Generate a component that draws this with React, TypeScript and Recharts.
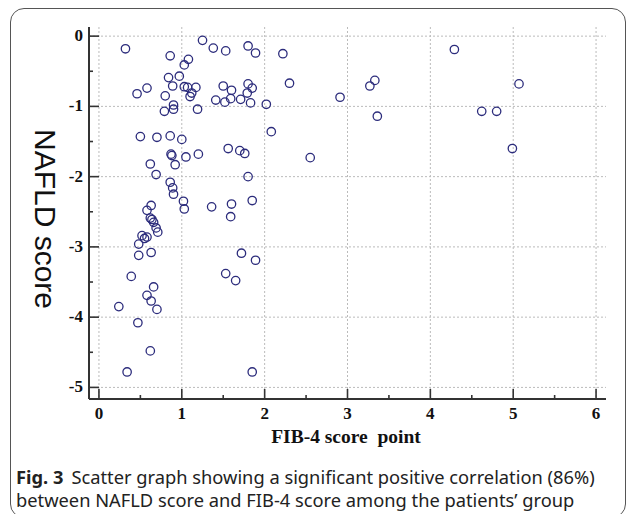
import { ScatterChart, Scatter, XAxis, YAxis, CartesianGrid, Label } from 'recharts';

// FIB-4 score (x) and NAFLD score (y) per patient
const fib4 = [
  0.32, 0.86, 1.25, 1.38, 1.53, 1.8, 1.89, 1.08, 1.03, 0.84,
  0.97, 0.89, 0.58, 0.46, 0.8, 1.03, 1.07, 1.17, 1.12, 1.1,
  0.9, 0.9, 0.79, 1.19, 1.5, 1.6, 1.8, 1.85, 1.79, 1.41,
  1.52, 1.59, 1.71, 1.83, 2.02, 2.08, 4.29, 3.33, 3.27, 2.91,
  3.36, 4.62, 4.8, 5.07, 4.99, 2.55, 2.22, 2.3, 0.5, 0.7,
  0.86, 1.0, 0.87, 0.88, 1.05, 1.2, 1.56, 1.7, 1.76, 0.62,
  0.92, 0.69, 1.8, 0.86, 0.89, 0.9, 1.02, 1.03, 1.36, 1.6,
  1.85, 1.59, 0.63, 0.58, 0.62, 0.64, 0.66, 0.69, 0.71, 0.52,
  0.58, 0.55, 0.48, 0.48, 0.63, 0.39, 0.66, 0.58, 0.63, 0.7,
  0.24, 0.47, 0.62, 0.34, 1.85, 1.72, 1.89, 1.53, 1.65,
];
const nafld = [
  -0.18, -0.28, -0.06, -0.17, -0.21, -0.14, -0.24, -0.33, -0.41, -0.59,
  -0.57, -0.71, -0.74, -0.82, -0.85, -0.72, -0.73, -0.73, -0.81, -0.86,
  -0.98, -1.04, -1.07, -1.04, -0.71, -0.77, -0.68, -0.74, -0.81, -0.91,
  -0.94, -0.89, -0.9, -0.95, -0.97, -1.36, -0.19, -0.63, -0.71, -0.87,
  -1.14, -1.07, -1.07, -0.68, -1.6, -1.73, -0.25, -0.67, -1.43, -1.44,
  -1.42, -1.47, -1.68, -1.7, -1.72, -1.68, -1.6, -1.63, -1.67, -1.82,
  -1.83, -1.97, -2.0, -2.08, -2.16, -2.25, -2.35, -2.46, -2.43, -2.39,
  -2.34, -2.57, -2.41, -2.48, -2.59, -2.61, -2.65, -2.73, -2.79, -2.84,
  -2.86, -2.88, -2.96, -3.12, -3.08, -3.42, -3.57, -3.69, -3.77, -3.89,
  -3.85, -4.08, -4.48, -4.78, -4.78, -3.09, -3.19, -3.38, -3.48,
];

const xTicks = [0, 0.5, 1, 1.5, 2, 2.5, 3, 3.5, 4, 4.5, 5, 5.5, 6];
const yTicks = [0, -0.5, -1, -1.5, -2, -2.5, -3, -3.5, -4, -4.5, -5];
const xGrid = [0, 1, 2, 3, 4, 5, 6];
const yGrid = [0, -1, -2, -3, -4, -5];

const data = fib4.map((x, i) => ({ x, y: nafld[i] }));

const AXIS = '#333';
const tickFont = '"Liberation Serif", "Times New Roman", serif';

const XTick = (props: any) => {
  const { x, y, payload } = props;
  const major = Number.isInteger(payload.value);
  return (
    <g>
      <line x1={x} x2={x} y1={y} y2={y - (major ? 10 : 4)} stroke={AXIS} strokeWidth={1.6} />
      {major && (
        <text x={x} y={y + 20} textAnchor="middle" fontFamily={tickFont} fontWeight="bold" fontSize={17} fill="#111">
          {payload.value}
        </text>
      )}
    </g>
  );
};

const YTick = (props: any) => {
  const { x, y, payload } = props;
  const major = Number.isInteger(payload.value);
  return (
    <g>
      <line x1={x} x2={x + (major ? 10 : 4)} y1={y} y2={y} stroke={AXIS} strokeWidth={1.6} />
      {major && (
        <text x={x - 6} y={y + 5} textAnchor="end" fontFamily={tickFont} fontWeight="bold" fontSize={17} fill="#111">
          {payload.value}
        </text>
      )}
    </g>
  );
};

const Ring = (props: any) => {
  const { cx, cy } = props;
  return <circle cx={cx} cy={cy} r={4.2} fill="none" stroke="#2c2c7c" strokeWidth={1.3} />;
};

export default function App() {
  return (
    <div style={{ position: 'absolute', left: 0, top: 0, width: 627, height: 514, overflow: 'hidden', background: '#fff' }}>
      <div
        style={{
          position: 'absolute',
          left: 10,
          top: 8,
          width: 614,
          height: 508,
          border: '1.5px solid #555',
          borderRadius: 14,
        }}
      />
      <div style={{ position: 'absolute', left: 0, top: 0 }}>
        <ScatterChart width={627} height={460} margin={{ top: 27, right: 21, bottom: 21, left: 49 }}>
          <CartesianGrid
            stroke="#bbb"
            strokeDasharray="2 2"
            horizontalValues={yGrid}
            verticalValues={xGrid}
          />
          <XAxis
            type="number"
            dataKey="x"
            domain={[-0.12, 6.12]}
            ticks={xTicks}
            interval={0}
            height={40}
            tickSize={0}
            tickMargin={0}
            tickLine={false}
            axisLine={{ stroke: AXIS, strokeWidth: 2 }}
            tick={<XTick />}
          >
            <Label
              content={() => (
                <text
                  x={346}
                  y={443}
                  textAnchor="middle"
                  fontFamily={tickFont}
                  fontWeight="bold"
                  fontSize={19.5}
                  fill="#111"
                  style={{ whiteSpace: 'pre' }}
                >
                  FIB-4 score  point
                </text>
              )}
            />
          </XAxis>
          <YAxis
            type="number"
            dataKey="y"
            domain={[-5.165, 0.13]}
            ticks={yTicks}
            interval={0}
            width={40}
            tickSize={0}
            tickMargin={0}
            tickLine={false}
            axisLine={{ stroke: AXIS, strokeWidth: 2 }}
            tick={<YTick />}
          >
            <Label
              content={() => (
                <text
                  x={45}
                  y={219}
                  transform="rotate(90 45 219)"
                  textAnchor="middle"
                  dominantBaseline="central"
                  fontFamily='"Liberation Sans", Arial, sans-serif'
                  fontSize={30}
                  fill="#111"
                >
                  NAFLD score
                </text>
              )}
            />
          </YAxis>
          <Scatter data={data} shape={<Ring />} isAnimationActive={false} />
        </ScatterChart>
      </div>
      <div
        style={{
          position: 'absolute',
          left: 16,
          top: 465,
          width: 608,
          fontFamily: '"Noto Sans", "Open Sans", sans-serif',
          fontSize: 18.3,
          lineHeight: '23px',
          color: '#222',
          whiteSpace: 'nowrap',
        }}
      >
        <span style={{ fontWeight: 'bold', marginRight: 8 }}>Fig. 3</span>
        <span>Scatter graph showing a significant positive correlation (86%)</span>
        <br />
        <span>between NAFLD score and FIB-4 score among the patients’ group</span>
      </div>
    </div>
  );
}
